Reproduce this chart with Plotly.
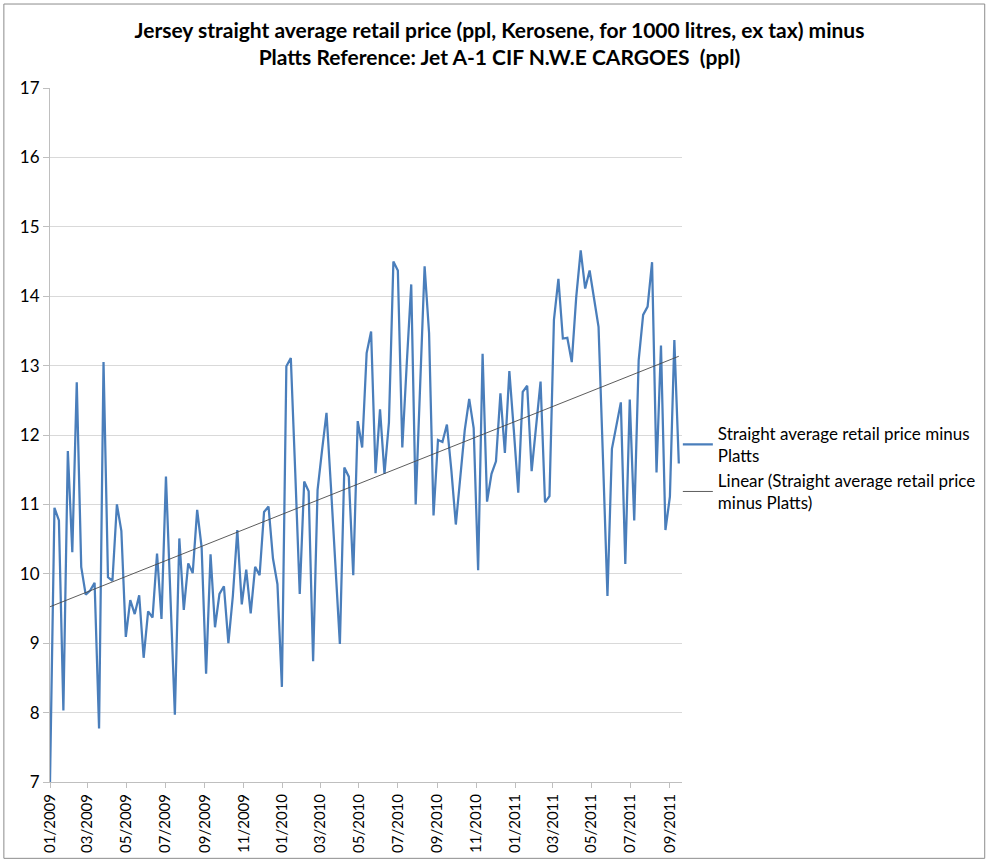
import numpy as np
import pandas as pd
import plotly.graph_objects as go

# Weekly series: Jersey straight average retail kerosene price minus Platts Jet A-1 (ppl)
start_date = "2009-01-05"
n_weeks = 142
margin_ppl = [
    7.00, 10.95, 10.77, 8.03, 11.77, 10.31, 12.76, 10.10, 9.70, 9.76,
    9.87, 7.77, 13.05, 9.95, 9.90, 11.00, 10.62, 9.09, 9.62, 9.42,
    9.69, 8.79, 9.46, 9.37, 10.29, 9.35, 11.40, 9.65, 7.97, 10.51,
    9.48, 10.15, 10.01, 10.92, 10.38, 8.56, 10.28, 9.23, 9.71, 9.82,
    9.00, 9.68, 10.63, 9.56, 10.06, 9.43, 10.10, 9.98, 10.89, 10.97,
    10.22, 9.85, 8.37, 12.99, 13.11, 11.45, 9.71, 11.33, 11.19, 8.74,
    11.21, 11.78, 12.32, 11.25, 10.05, 8.99, 11.53, 11.40, 9.98, 12.20,
    11.82, 13.18, 13.49, 11.45, 12.37, 11.44, 12.18, 14.50, 14.37, 11.82,
    13.03, 14.17, 11.00, 12.71, 14.43, 13.47, 10.84, 11.93, 11.90, 12.15,
    11.49, 10.71, 11.39, 12.07, 12.52, 12.10, 10.05, 13.17, 11.04, 11.44,
    11.62, 12.60, 11.74, 12.92, 12.07, 11.17, 12.62, 12.71, 11.48, 12.12,
    12.77, 11.03, 11.12, 13.66, 14.25, 13.39, 13.40, 13.05, 13.99, 14.66,
    14.11, 14.37, 13.97, 13.56, 11.65, 9.68, 11.80, 12.16, 12.47, 10.14,
    12.51, 10.77, 13.08, 13.73, 13.85, 14.49, 11.46, 13.29, 10.63, 11.11,
    13.37, 11.59,
]
y_ticks = [7, 8, 9, 10, 11, 12, 13, 14, 15, 16, 17]

weeks = pd.date_range(start_date, periods=n_weeks, freq="7D")
values = np.array(margin_ppl)

# Least-squares linear trend over the date values
days = (weeks - weeks[0]).days.to_numpy().astype(float)
slope, intercept = np.polyfit(days, values, 1)
trend = intercept + slope * days

series_name = "Straight average retail price minus<br>Platts"
trend_name = "Linear (Straight average retail price<br>minus Platts)"

fig = go.Figure()
fig.add_trace(go.Scatter(
    x=weeks, y=values, mode="lines", name=series_name,
    line=dict(color="#4a7ebb", width=2.25),
))
fig.add_trace(go.Scatter(
    x=weeks, y=trend, mode="lines", name=trend_name,
    line=dict(color="#4a4a4a", width=0.9),
))

font_family = "Lato, Carlito, 'Open Sans', sans-serif"
grid = "#d9d9d9"
axis_col = "#bfbfbf"

fig.update_layout(
    width=991, height=859,
    margin=dict(l=50, r=309, t=88, b=77, autoexpand=False),
    paper_bgcolor="white", plot_bgcolor="white",
    font=dict(family=font_family, size=17, color="#000000"),
    title=dict(
        text="<b>Jersey straight average retail price (ppl, Kerosene, for 1000 litres, ex tax) minus<br>"
             "Platts Reference: Jet A-1 CIF N.W.E CARGOES  (ppl)</b>",
        x=0.504, xanchor="center", y=0.956, yanchor="middle",
        font=dict(family=font_family, size=21, color="#000000"),
    ),
    showlegend=True,
    legend=dict(
        xref="container", yref="container",
        x=0.684, xanchor="left", y=0.455, yanchor="middle",
        font=dict(family=font_family, size=17, color="#000000"),
        bgcolor="rgba(0,0,0,0)", itemwidth=30, tracegroupgap=4,
    ),
    shapes=[dict(
        type="rect", xref="paper", yref="paper",
        x0=-0.073, x1=1.479, y0=-0.11, y1=1.121,
        line=dict(color="#8c8c8c", width=1), fillcolor="rgba(0,0,0,0)",
        layer="below",
    )],
)

fig.update_xaxes(
    type="date", automargin=False,
    range=[weeks[0], pd.Timestamp("2011-09-24")],
    tick0=start_date, dtick="M2", tickformat="%m/%Y",
    tickangle=-90, ticks="outside", ticklen=5, tickcolor=axis_col,
    showline=True, linecolor=axis_col, linewidth=1,
    showgrid=False, zeroline=False,
    tickfont=dict(family=font_family, size=15, color="#000000"),
)
fig.update_yaxes(
    automargin=False,
    range=[y_ticks[0], y_ticks[-1]], tickvals=y_ticks,
    ticks="outside", ticklen=6, tickcolor=axis_col,
    showline=True, linecolor=axis_col, linewidth=1,
    gridcolor=grid, gridwidth=1, zeroline=False,
    tickfont=dict(family=font_family, size=17, color="#000000"),
)

fig.write_html("out.html")
